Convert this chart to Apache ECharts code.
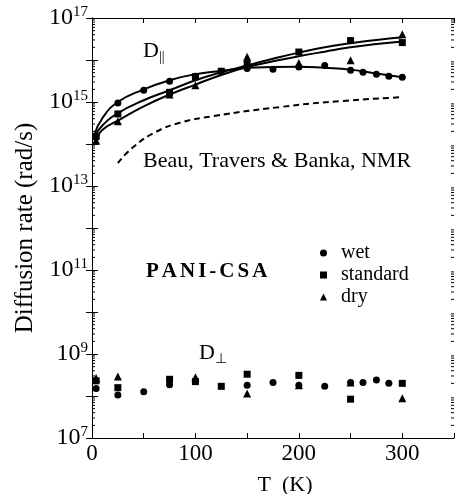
<!DOCTYPE html>
<html><head><meta charset="utf-8">
<script src="https://cdn.jsdelivr.net/npm/echarts@6/dist/echarts.min.js"></script>
<style>html,body{margin:0;padding:0;background:#fff}#c{width:457px;height:494px}</style>
</head><body><div id="c"></div>
<script>
const FONT = "'Liberation Serif','Times New Roman',serif";

// ---- D|| measured points ----
const wetT   = [4, 25, 50, 75, 100, 150, 175, 200, 225, 250, 262, 275, 287, 300];
const wetPar = [1.6e14, 9.5e14, 1.9e15, 3.1e15, 4.1e15, 6.3e15, 6.0e15, 6.8e15, 7.4e15, 5.7e15, 5.1e15, 4.6e15, 4.1e15, 3.9e15];
const stdT   = [4, 25, 75, 100, 125, 150, 200, 250, 300];
const stdPar = [1.5e14, 5.2e14, 1.7e15, 4.0e15, 5.4e15, 8.1e15, 1.55e16, 2.9e16, 2.6e16];
const dryT   = [4, 25, 75, 100, 150, 200, 250, 300];
const dryPar = [1.2e14, 3.5e14, 1.5e15, 2.5e15, 1.2e16, 8.5e15, 9.8e15, 4.1e16];

// ---- fitted curves ----
const fitT   = [2, 10, 25, 50, 75, 100, 125, 150, 175, 200, 225, 250, 275, 300];
const wetFit = [1.6e14, 4.1e14, 1.0e15, 2.0e15, 3.3e15, 4.6e15, 5.5e15, 6.5e15, 6.8e15, 6.9e15, 6.5e15, 5.9e15, 4.8e15, 3.9e15];
const stdFit = [1.45e14, 2.75e14, 5.4e14, 1.1e15, 1.9e15, 3.3e15, 5.1e15, 7.4e15, 1.07e16, 1.5e16, 2.0e16, 2.5e16, 3.0e16, 3.5e16];
const dryFit = [1.05e14, 2.15e14, 3.6e14, 7.9e14, 1.5e15, 2.6e15, 4.4e15, 6.8e15, 9.3e15, 1.23e16, 1.58e16, 2.0e16, 2.4e16, 2.75e16];

// ---- Beau, Travers & Banka NMR (dashed) ----
const nmrT   = [25, 40, 62, 85, 117, 182, 240, 300];
const nmrVal = [3.5e13, 8.5e13, 1.95e14, 3.2e14, 4.6e14, 7.6e14, 1.05e15, 1.3e15];

// ---- D_perp measured points ----
const wetPerpT = [4, 25, 50, 75, 150, 175, 200, 225, 250, 262, 275, 287];
const wetPerp  = [1.5e8, 1.05e8, 1.26e8, 1.86e8, 1.8e8, 2.1e8, 1.8e8, 1.7e8, 2.1e8, 2.1e8, 2.4e8, 2.0e8];
const stdPerpT = [4, 25, 75, 100, 125, 150, 200, 250, 300];
const stdPerp  = [2.3e8, 1.58e8, 2.5e8, 2.2e8, 1.7e8, 3.3e8, 3.1e8, 8.4e7, 2.0e8];
const dryPerpT = [4, 25, 100, 150, 200, 250, 300];
const dryPerp  = [2.7e8, 2.9e8, 2.8e8, 1.15e8, 1.8e8, 2.1e8, 8.9e7];

// ---- tick labels ----
const xTickLabels = [0, 100, 200, 300];
const yLabelExps  = [7, 9, 11, 13, 15, 17];

const zip = (xs, ys) => xs.map((x, i) => [x, ys[i]]);

// minor log ticks (2..9 x 10^k) on left and right frame
const minorTicks = [];
for (let k = 7; k < 17; k++) for (let m = 2; m <= 9; m++) { minorTicks.push([0, m * Math.pow(10, k)]); minorTicks.push([350, m * Math.pow(10, k)]); }

const chart = echarts.init(document.getElementById('c'));
const black = '#000';
const sym = { wet: 'circle', standard: 'rect', dry: 'triangle' };
const symSize = { wet: 7, standard: 7, dry: 8 };
function scatter(name, data) {
  return { name, type: 'scatter', data, symbol: sym[name], symbolSize: symSize[name], itemStyle: { color: black, opacity: 1 }, z: 5 };
}
function fit(data) {
  return { type: 'line', data, symbol: 'none', smooth: 0.5, lineStyle: { color: black, width: 2 }, z: 4 };
}
const letters = 'PANI-CSA'.split('').map(c => '{l|' + c + '}').join('');

chart.setOption({
  animation: false,
  textStyle: { fontFamily: FONT, color: black },
  grid: { left: 92, right: 3, top: 18, bottom: 56, containLabel: false, outerBoundsMode: 'none' },
  legend: {
    orient: 'vertical', left: 315, top: 238, itemGap: 2, itemWidth: 7, itemHeight: 7,
    textStyle: { fontFamily: FONT, fontSize: 20, color: black, padding: [0, 0, 0, 9] },
    data: [{ name: 'wet', icon: 'circle' }, { name: 'standard', icon: 'rect' }, { name: 'dry', icon: 'triangle' }]
  },
  xAxis: [{
    type: 'value', min: 0, max: 350, interval: 50, position: 'bottom',
    name: 'T  (K)', nameLocation: 'middle', nameGap: 36,
    nameTextStyle: { fontFamily: FONT, fontSize: 22, color: black, padding: [0, 0, 0, 24] },
    axisLine: { lineStyle: { color: black, width: 1 } },
    axisTick: { inside: true, length: 5, lineStyle: { color: black } },
    axisLabel: { fontFamily: FONT, fontSize: 23, color: black, margin: 4, formatter: v => xTickLabels.includes(v) ? String(v) : '' },
    splitLine: { show: false }
  }, {
    type: 'value', min: 0, max: 350, interval: 50, position: 'top',
    axisLine: { lineStyle: { color: black, width: 1 } },
    axisTick: { inside: true, length: 5, lineStyle: { color: black } },
    axisLabel: { show: false }, splitLine: { show: false }
  }],
  yAxis: [{
    type: 'log', logBase: 10, min: 1e7, max: 1e17, interval: 1, position: 'left',
    name: 'Diffusion rate (rad/s)', nameLocation: 'middle', nameGap: 54, nameRotate: 90,
    nameTextStyle: { fontFamily: FONT, fontSize: 25, color: black },
    axisLine: { lineStyle: { color: black, width: 1 } },
    axisTick: { inside: true, length: 6, lineStyle: { color: black } },
    axisLabel: {
      margin: 4, color: black,
      formatter: v => { const e = Math.round(Math.log10(v)); return yLabelExps.includes(e) ? '{b|10}{s|' + e + '}' : ''; },
      rich: { b: { fontFamily: FONT, fontSize: 24, color: black }, s: { fontFamily: FONT, fontSize: 15, color: black, padding: [0, 0, 11, 0] } }
    },
    splitLine: { show: false }
  }, {
    type: 'log', logBase: 10, min: 1e7, max: 1e17, interval: 1, position: 'right',
    axisLine: { lineStyle: { color: black, width: 1 } },
    axisTick: { inside: true, length: 6, lineStyle: { color: black } },
    axisLabel: { show: false }, splitLine: { show: false }
  }],
  graphic: [
    { type: 'text', left: 143, top: 40, style: { text: '{a|D}{b|||}', rich: { a: { fontFamily: FONT, fontSize: 22, fill: black }, b: { fontFamily: FONT, fontSize: 14, fill: black, padding: [12, 0, 0, 0] } } } },
    { type: 'text', left: 143, top: 150, style: { text: 'Beau, Travers & Banka, NMR', fontFamily: FONT, fontSize: 22, fill: black } },
    { type: 'text', left: 146, top: 261, style: { text: letters, rich: { l: { fontFamily: FONT, fontSize: 21, fontWeight: 'bold', fill: black, padding: [0, 3, 0, 0] } } } },
    { type: 'text', left: 199, top: 342, style: { text: '{a|D}{b|⊥}', rich: { a: { fontFamily: FONT, fontSize: 22, fill: black }, b: { fontFamily: FONT, fontSize: 14, fill: black, padding: [12, 0, 0, 0] } } } }
  ],
  series: [
    fit(zip(fitT, wetFit)), fit(zip(fitT, stdFit)), fit(zip(fitT, dryFit)),
    { type: 'line', data: zip(nmrT, nmrVal), symbol: 'none', smooth: 0.5, lineStyle: { color: black, width: 2, type: [6, 4] }, z: 4 },
    scatter('wet', zip(wetT, wetPar)), scatter('standard', zip(stdT, stdPar)), scatter('dry', zip(dryT, dryPar)),
    scatter('wet', zip(wetPerpT, wetPerp)), scatter('standard', zip(stdPerpT, stdPerp)), scatter('dry', zip(dryPerpT, dryPerp)),
    {
      type: 'custom', data: minorTicks, silent: true, z: 3,
      renderItem: (params, api) => {
        const x = api.value(0), p = api.coord([x, api.value(1)]);
        const d = x === 0 ? 3 : -3;
        return { type: 'line', shape: { x1: p[0], y1: p[1], x2: p[0] + d, y2: p[1] }, style: { stroke: black, lineWidth: 1 } };
      }
    }
  ]
});
</script>
</body></html>
